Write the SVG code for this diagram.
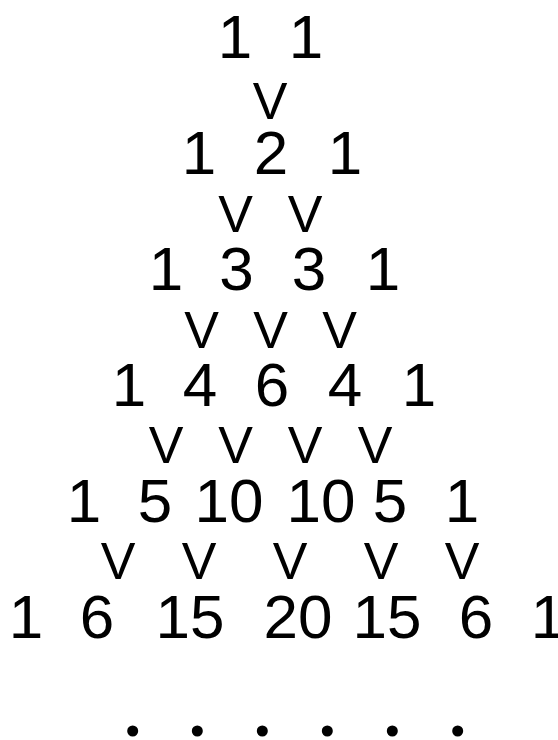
<svg xmlns="http://www.w3.org/2000/svg" width="558" height="740" viewBox="0 0 558 740">
<style>
.n{font-family:"Liberation Sans",Arial,sans-serif;font-size:62px;fill:#000;text-anchor:middle}
.v{font-family:"Liberation Sans",Arial,sans-serif;font-size:52px;fill:#000;text-anchor:middle}
</style>
<rect width="558" height="740" fill="#fff"/>
<g id="row1"><text class="n" x="235" y="58">1</text><text class="n" x="306" y="58">1</text></g>
<g id="row2"><text class="n" x="199" y="174">1</text><text class="n" x="271" y="174">2</text><text class="n" x="345" y="174">1</text></g>
<g id="row3"><text class="n" x="166" y="290">1</text><text class="n" x="236.5" y="290">3</text><text class="n" x="309" y="290">3</text><text class="n" x="383" y="290">1</text></g>
<g id="row4"><text class="n" x="129" y="406">1</text><text class="n" x="200" y="406">4</text><text class="n" x="272" y="406">6</text><text class="n" x="345" y="406">4</text><text class="n" x="419" y="406">1</text></g>
<g id="row5"><text class="n" x="84" y="522">1</text><text class="n" x="155" y="522">5</text><text class="n" x="229" y="522">10</text><text class="n" x="321" y="522">10</text><text class="n" x="390" y="522">5</text><text class="n" x="462" y="522">1</text></g>
<g id="row6"><text class="n" x="26" y="638">1</text><text class="n" x="97" y="638">6</text><text class="n" x="190" y="638">15</text><text class="n" x="298" y="638">20</text><text class="n" x="387" y="638">15</text><text class="n" x="476" y="638">6</text><text class="n" x="548" y="638">1</text></g>
<g id="connectors">
<text class="v" x="270" y="119">V</text>
<text class="v" x="235.5" y="232">V</text><text class="v" x="305" y="232">V</text>
<text class="v" x="201.5" y="348">V</text><text class="v" x="270.5" y="348">V</text><text class="v" x="339.5" y="348">V</text>
<text class="v" x="166" y="463">V</text><text class="v" x="235.5" y="463">V</text><text class="v" x="305" y="463">V</text><text class="v" x="375" y="463">V</text>
<text class="v" x="118" y="579">V</text><text class="v" x="199" y="579">V</text><text class="v" x="290" y="579">V</text><text class="v" x="381" y="579">V</text><text class="v" x="462" y="579">V</text>
</g>
<g id="dots" fill="#000">
<circle cx="132.7" cy="731" r="5.5"/><circle cx="197.3" cy="731" r="5.5"/><circle cx="262.3" cy="731" r="5.5"/><circle cx="327.3" cy="731" r="5.5"/><circle cx="392.3" cy="731" r="5.5"/><circle cx="457.7" cy="731" r="5.5"/>
</g>
</svg>
